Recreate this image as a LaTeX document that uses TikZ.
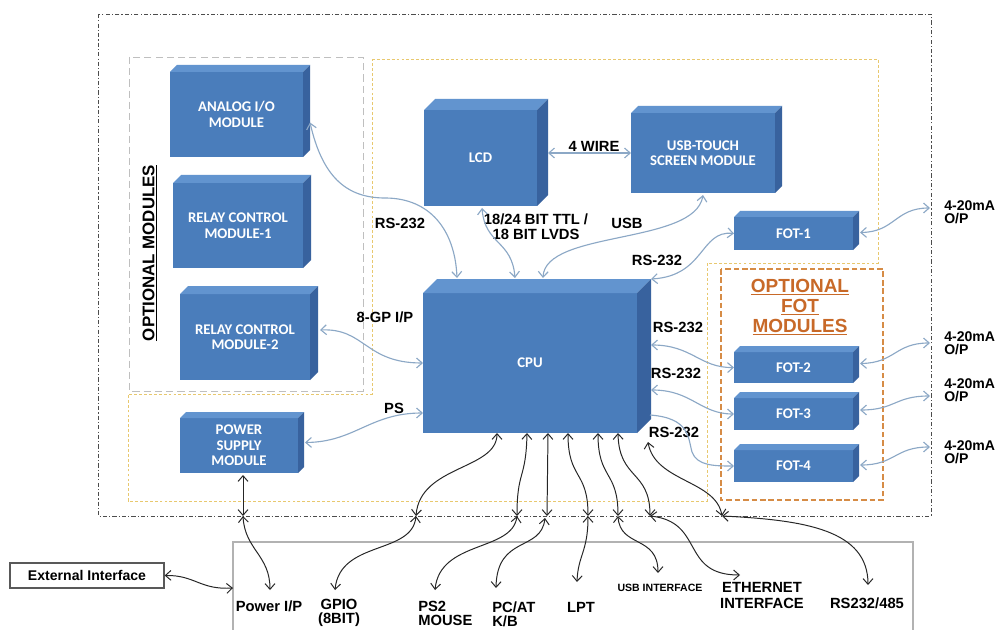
\documentclass[tikz,border=0pt]{standalone}
\usepackage{fontspec}
\setmainfont{Liberation Sans}
\newfontfamily\boxfont{Carlito}
\usetikzlibrary{arrows.meta,calc}
\definecolor{bfront}{RGB}{74,125,187}
\definecolor{btop}{RGB}{98,148,207}
\definecolor{bside}{RGB}{56,98,158}
\definecolor{conn}{RGB}{140,168,198}
\definecolor{ylw}{RGB}{232,200,110}
\definecolor{org}{RGB}{214,140,70}
\definecolor{orgtxt}{RGB}{200,105,40}
\tikzset{
  blk/.style={fill=bfront, draw=none, inner sep=0pt, outer sep=0pt, text=white,
    font=\boxfont\bfseries\fontsize{10.5}{11}\selectfont, align=center},
  lbl/.style={font=\bfseries\fontsize{10.5}{10.5}\selectfont, inner sep=0pt, align=center},
  bc/.style={draw=conn, line width=0.8pt,
    arrows={Straight Barb[length=4pt,width=7pt]-Straight Barb[length=4pt,width=7pt]}},
  bcone/.style={draw=conn, line width=0.8pt, arrows={-Straight Barb[length=4pt,width=7pt]}},
  kc/.style={draw=black!85, line width=0.7pt,
    arrows={Straight Barb[length=4pt,width=7pt]-Straight Barb[length=4pt,width=7pt]}},
}
\newcommand{\mybox}[7]{%
  \node[blk, minimum width={(#4-#2)*0.025cm}, minimum height={(#5-#3)*0.025cm}] (#1) at ({(#2+#4)/2},{(#3+#5)/2}) {#7};
  \fill[btop] (#1.north west) -- ([shift={(#6,-#6)}]#1.north west) -- ([shift={(#6,-#6)}]#1.north east) -- (#1.north east) -- cycle;
  \fill[bside] (#1.north east) -- ([shift={(#6,-#6)}]#1.north east) -- ([shift={(#6,-#6)}]#1.south east) -- (#1.south east) -- cycle;
}
\begin{document}
\begin{tikzpicture}[x=0.025cm, y=-0.025cm]
\useasboundingbox (0,0) rectangle (1000,630);
\fill[white] (0,0) rectangle (1000,630);

% frames
\draw[black!70, line width=0.6pt, dash pattern=on 3pt off 1.5pt on 0.8pt off 1.5pt] (98,14) rectangle (931,516);
\draw[gray!50, line width=0.6pt, dash pattern=on 5pt off 3pt] (129,57) rectangle (363,391);
\draw[ylw, line width=0.7pt, dash pattern=on 2pt off 1.5pt] (372,59) -- (878,59) -- (878,263) -- (707,263) -- (707,501) -- (128,501) -- (128,394) -- (372,394) -- cycle;
\draw[org, line width=0.8pt, dash pattern=on 4pt off 2pt] (721,269) rectangle (883,500);
\draw[gray!60, line width=0.8pt] (233,632) -- (233,542) -- (913,542) -- (913,632);

% blocks
\mybox{ana}{170}{72}{303}{157}{7}{ANALOG I/O\\MODULE}
\mybox{rcone}{173}{183}{303}{268}{8}{RELAY CONTROL\\MODULE-1}
\mybox{rctwo}{180}{294}{310}{380}{8}{RELAY CONTROL\\MODULE-2}
\mybox{psm}{180}{418}{298}{473}{6}{POWER\\SUPPLY\\MODULE}
\mybox{lcd}{424}{110}{537}{206}{11}{LCD}
\mybox{tch}{631}{113}{775}{193}{7}{USB-TOUCH\\SCREEN MODULE}
\mybox{fotone}{734}{217}{853}{250}{6}{FOT-1}
\mybox{cpu}{423}{293}{637}{433}{14}{CPU}
\mybox{fottwo}{734}{352}{853}{383}{6}{FOT-2}
\mybox{fotthree}{734}{398}{853}{430}{6}{FOT-3}
\mybox{fotfour}{734}{450}{853}{482}{6}{FOT-4}

% titles
\node[lbl, rotate=90, font=\bfseries\fontsize{12}{14}\selectfont] (optm) at (150,253) {\underline{OPTIONAL MODULES}};
\node[lbl, text=orgtxt, font=\bfseries\fontsize{13.5}{14.2}\selectfont] (optf) at (800,307) {\underline{OPTIONAL}\\\underline{FOT}\\\underline{MODULES}};

% labels
\node[lbl] (lfw) at (594,146) {4 WIRE};
\node[lbl] (lrsa) at (400,223) {RS-232};
\node[lbl, font=\bfseries\fontsize{10.5}{10.7}\selectfont] (lttl) at (536,227) {18/24 BIT TTL /\\18 BIT LVDS};
\node[lbl] (lusb) at (627,223) {USB};
\node[lbl] (lrsb) at (657,260) {RS-232};
\node[lbl] (lgp) at (385,317) {8-GP I/P};
\node[lbl] (lps) at (394,408) {PS};
\node[lbl] (lrsc) at (678,327) {RS-232};
\node[lbl] (lrsd) at (676,373) {RS-232};
\node[lbl] (lrse) at (674,432) {RS-232};
\node[lbl, anchor=west, align=left, font=\bfseries\fontsize{10}{9.5}\selectfont] (oa) at (944,212.5) {4-20mA\\O/P};
\node[lbl, anchor=west, align=left, font=\bfseries\fontsize{10}{9.5}\selectfont] (ob) at (944,343.5) {4-20mA\\O/P};
\node[lbl, anchor=west, align=left, font=\bfseries\fontsize{10}{9.5}\selectfont] (oc) at (944,390) {4-20mA\\O/P};
\node[lbl, anchor=west, align=left, font=\bfseries\fontsize{10}{9.5}\selectfont] (od) at (944,452) {4-20mA\\O/P};

% bottom labels
\node[lbl] (bpwr) at (269,606) {Power I/P};
\node[lbl, font=\bfseries\fontsize{10.5}{10}\selectfont] (bgpio) at (339,613) {GPIO\\(8BIT)};
\node[lbl, anchor=west, align=left, font=\bfseries\fontsize{10.5}{10}\selectfont] (bpstwo) at (418,613) {PS2\\MOUSE};
\node[lbl, anchor=west, align=left, font=\bfseries\fontsize{10.5}{10}\selectfont] (bpcat) at (492,614) {PC/AT\\K/B};
\node[lbl] (blpt) at (581,607) {LPT};
\node[lbl, font=\bfseries\fontsize{7.5}{9}\selectfont] (busb) at (660,588) {USB INTERFACE};
\node[lbl, font=\bfseries\fontsize{10.5}{10.7}\selectfont] (beth) at (762,595.5) {ETHERNET\\INTERFACE};
\node[lbl] (brs) at (867,603) {RS232/485};
\node[draw=gray!70!black, line width=0.9pt, minimum width=3.85cm, minimum height=0.625cm, inner sep=0pt,
  font=\bfseries\fontsize{10}{12}\selectfont] (ext) at (87,575.5) {External Interface};

% coordinates
\coordinate (oo) at (930,208);
\coordinate (ot) at (930,343);
\coordinate (oh) at (930,396);
\coordinate (of) at (930,447);
\coordinate (ca) at (243,516);
\coordinate (cb) at (416,516);
\coordinate (cc) at (517,516);
\coordinate (cd) at (547,516);
\coordinate (cdb) at (545,518);
\coordinate (ce) at (588,516);
\coordinate (cf) at (618,516);
\coordinate (cg) at (650,516);
\coordinate (ch) at (722,516);
\coordinate (rsdot) at (648,442);
\coordinate (tpwr) at (270,590);
\coordinate (tgpio) at (335,590);
\coordinate (tps) at (435,590);
\coordinate (tpc) at (496,588);
\coordinate (tlpt) at (577,582);
\coordinate (tusb) at (658,573);
\coordinate (teth) at (740,575);
\coordinate (trs) at (868,585);
\coordinate (pnl) at (233,588);

% blue connectors
\draw[bc] ([shift={(7,8)}]ana.east) .. controls (322,175) and (345,198) .. (385,198) .. controls (430,198) and (455,230) .. ([shift={(34,-15)}]cpu.north west);
\draw[bc] ([shift={(58,2)}]lcd.south west) .. controls (485,245) and (512,240) .. ([shift={(92,-15)}]cpu.north west);
\draw[bc] ([shift={(0,2)}]tch.south) .. controls (695,245) and (545,230) .. ([shift={(120,-15)}]cpu.north west);
\draw[bc] (fotone.west) .. controls (700,230) and (705,276) .. ([shift={(14,-14)}]cpu.north east);
\draw[bc] ([shift={(11,-5)}]lcd.east) -- (tch.west);
\draw[bc] ([shift={(10,-7)}]rctwo.east) .. controls (365,328) and (365,363) .. (cpu.west);
\draw[bc] ([shift={(7,-3)}]psm.east) .. controls (355,442) and (370,413) .. ([shift={(0,50)}]cpu.west);
\draw[bc] ([shift={(14,-18)}]cpu.east) .. controls (692,345) and (700,368) .. (fottwo.west);
\draw[bc] ([shift={(14,27)}]cpu.east) .. controls (692,390) and (700,414) .. (fotthree.west);
\draw[bcone] ([shift={(13,52)}]cpu.east) .. controls (690,418) and (688,438) .. (692,452) .. controls (697,466) and (715,466) .. (fotfour.west);
\draw[bc] ([shift={(7,-1)}]fotone.east) .. controls (895,232) and (895,208) .. (oo);
\draw[bc] ([shift={(7,-4)}]fottwo.east) .. controls (895,363) and (895,343) .. (ot);
\draw[bc] ([shift={(7,-4)}]fotthree.east) .. controls (895,410) and (895,396) .. (oh);
\draw[bc] ([shift={(7,-1)}]fotfour.east) .. controls (895,465) and (895,447) .. (of);

% black connectors
\draw[kc] ([shift={(4,2)}]psm.south) -- (ca);
\draw[kc] (ca) .. controls (245,550) and (270,555) .. (tpwr);
\draw[kc] ([shift={(74,0)}]cpu.south west) .. controls (497,470) and (420,465) .. (cb);
\draw[kc] (cb) .. controls (412,555) and (340,540) .. (tgpio);
\draw[kc] ([shift={(104,0)}]cpu.south west) .. controls (526,480) and (517,470) .. (cc);
\draw[kc] (cc) .. controls (512,552) and (440,540) .. (tps);
\draw[kc] ([shift={(125,0)}]cpu.south west) -- (cd);
\draw[kc] (cdb) .. controls (541,552) and (497,535) .. (tpc);
\draw[kc] ([shift={(145,0)}]cpu.south west) .. controls (568,480) and (588,470) .. (ce);
\draw[kc] (ce) .. controls (588,552) and (578,555) .. (tlpt);
\draw[kc] ([shift={(175,0)}]cpu.south west) .. controls (598,480) and (618,470) .. (cf);
\draw[kc] (cf) .. controls (620,548) and (658,535) .. (tusb);
\draw[kc] ([shift={(195,0)}]cpu.south west) .. controls (619,480) and (650,470) .. (cg);
\draw[kc] (cg) .. controls (705,522) and (680,575) .. (teth);
\draw[kc] (rsdot) .. controls (655,482) and (716,480) .. (ch);
\draw[kc] (ch) .. controls (805,520) and (868,530) .. (trs);
\draw[kc] (ext.east) .. controls (195,575) and (200,590) .. (pnl);
\end{tikzpicture}
\end{document}
